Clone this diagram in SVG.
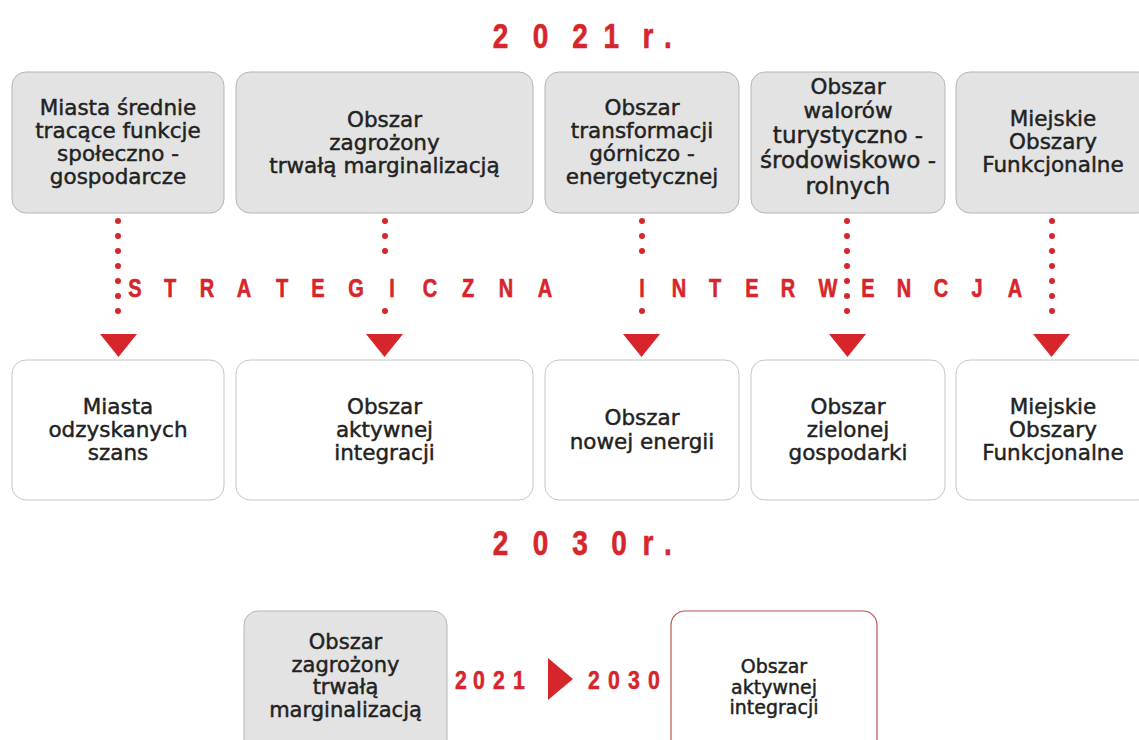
<svg xmlns="http://www.w3.org/2000/svg" width="1139" height="740" viewBox="0 0 1139 740">
<style>
.title{font-family:"Liberation Sans",Arial,sans-serif;font-weight:bold;font-size:35px;fill:#d6262c;stroke:#d6262c;stroke-width:0.6;text-anchor:middle}
.band{font-family:"Liberation Sans",Arial,sans-serif;font-weight:bold;font-size:25px;fill:#d6262c;stroke:#d6262c;stroke-width:0.6;text-anchor:middle}
.yr{font-family:"Liberation Sans",Arial,sans-serif;font-weight:bold;font-size:25px;fill:#d6262c;stroke:#d6262c;stroke-width:0.5;text-anchor:middle}
.lbl{font-family:"DejaVu Sans",sans-serif;font-size:21.5px;fill:#222;stroke:#222;stroke-width:0.45;text-anchor:middle}
.big{font-size:23px}
.lg{font-size:21px}
.sm{font-size:19px}
.g{fill:#e3e3e3;stroke:#b5b5b5;stroke-width:1}
.w{fill:#fff;stroke:#c5c5c5;stroke-width:1}
.wr{fill:#fff;stroke:#c0504a;stroke-width:1.2}
.dots{stroke:#d6262c;stroke-width:6;stroke-linecap:round;stroke-dasharray:0 15;fill:none}
.tri{fill:#d6262c}
</style>

<text class="title" transform="scale(0.8 1)" x="625.6 675.6 725 764 810 835" y="48">2021r.</text>
<text class="title" transform="scale(0.8 1)" x="625.6 675.6 725 773.8 810 835" y="555">2030r.</text>

<g id="top1"><rect class="g" x="12" y="72" width="212" height="141" rx="14"/>
<text class="lbl"><tspan x="118" y="115">Miasta średnie</tspan><tspan x="118" y="138">tracące funkcje</tspan><tspan x="118" y="161">społeczno -</tspan><tspan x="118" y="184">gospodarcze</tspan></text></g>
<g id="top2"><rect class="g" x="236" y="72" width="297" height="141" rx="14"/>
<text class="lbl"><tspan x="384.5" y="127">Obszar</tspan><tspan x="384.5" y="150">zagrożony</tspan><tspan x="384.5" y="173">trwałą marginalizacją</tspan></text></g>
<g id="top3"><rect class="g" x="545" y="72" width="194" height="141" rx="14"/>
<text class="lbl"><tspan x="642" y="115">Obszar</tspan><tspan x="642" y="138">transformacji</tspan><tspan x="642" y="161">górniczo -</tspan><tspan x="642" y="184">energetycznej</tspan></text></g>
<g id="top4"><rect class="g" x="751" y="72" width="194" height="141" rx="14"/>
<text class="lbl"><tspan x="848" y="94">Obszar</tspan><tspan x="848" y="118">walorów</tspan><tspan class="big" x="848" y="143">turystyczno -</tspan><tspan class="big" x="848" y="168">środowiskowo -</tspan><tspan class="big" x="848" y="194">rolnych</tspan></text></g>
<g id="top5"><rect class="g" x="956" y="72" width="196" height="141" rx="14"/>
<text class="lbl"><tspan x="1053" y="126">Miejskie</tspan><tspan x="1053" y="149">Obszary</tspan><tspan x="1053" y="172">Funkcjonalne</tspan></text></g>

<g id="bot1"><rect class="w" x="12" y="360" width="212" height="140" rx="14"/>
<text class="lbl"><tspan x="118" y="414">Miasta</tspan><tspan x="118" y="437">odzyskanych</tspan><tspan x="118" y="460">szans</tspan></text></g>
<g id="bot2"><rect class="w" x="236" y="360" width="297" height="140" rx="14"/>
<text class="lbl"><tspan x="384.5" y="414">Obszar</tspan><tspan x="384.5" y="437">aktywnej</tspan><tspan x="384.5" y="460">integracji</tspan></text></g>
<g id="bot3"><rect class="w" x="545" y="360" width="194" height="140" rx="14"/>
<text class="lbl"><tspan x="642" y="425">Obszar</tspan><tspan x="642" y="449">nowej energii</tspan></text></g>
<g id="bot4"><rect class="w" x="751" y="360" width="194" height="140" rx="14"/>
<text class="lbl"><tspan x="848" y="414">Obszar</tspan><tspan x="848" y="437">zielonej</tspan><tspan x="848" y="460">gospodarki</tspan></text></g>
<g id="bot5"><rect class="w" x="956" y="360" width="196" height="140" rx="14"/>
<text class="lbl"><tspan x="1053" y="414">Miejskie</tspan><tspan x="1053" y="437">Obszary</tspan><tspan x="1053" y="460">Funkcjonalne</tspan></text></g>

<g id="connectors">
<path class="dots" d="M118 221V326"/>
<path class="dots" d="M385 221V266M385 311V326"/>
<path class="dots" d="M642 221V266M642 311V326"/>
<path class="dots" d="M847 221V326"/>
<path class="dots" d="M1052 221V326"/>
<polygon class="tri" points="100,334 137,334 118.5,357"/>
<polygon class="tri" points="366,334 403,334 384.5,357"/>
<polygon class="tri" points="623,334 660,334 641.5,357"/>
<polygon class="tri" points="829,334 866,334 847.5,357"/>
<polygon class="tri" points="1033,334 1070,334 1051.5,357"/>
<polygon class="tri" points="548,658 573,679 548,700"/>
</g>

<text class="band" transform="scale(0.8 1)" x="168.75 212.5 258.75 305 352.5 397.5 445 490 537.5 585 632.5 681.25" y="297">STRATEGICZNA</text>
<text class="band" transform="scale(0.8 1)" x="802.5 848.75 893.75 940 985 1035 1085 1130 1176.25 1221.25 1268.75" y="297">INTERWENCJA</text>

<g id="leg1"><rect class="g" x="244" y="611" width="203" height="145" rx="14"/>
<text class="lbl lg"><tspan x="345.5" y="649">Obszar</tspan><tspan x="345.5" y="671.5">zagrożony</tspan><tspan x="345.5" y="694">trwałą</tspan><tspan x="345.5" y="716.5">marginalizacją</tspan></text></g>
<g id="leg2"><rect class="wr" x="671" y="611" width="206" height="145" rx="14"/>
<text class="lbl sm"><tspan x="774" y="673">Obszar</tspan><tspan x="774" y="693.5">aktywnej</tspan><tspan x="774" y="714">integracji</tspan></text></g>

<text class="yr" transform="scale(0.85 1)" x="542.4 563.5 587.1 610.6" y="689">2021</text>
<text class="yr" transform="scale(0.85 1)" x="698.8 722.4 745.9 769.4" y="689">2030</text>
</svg>
